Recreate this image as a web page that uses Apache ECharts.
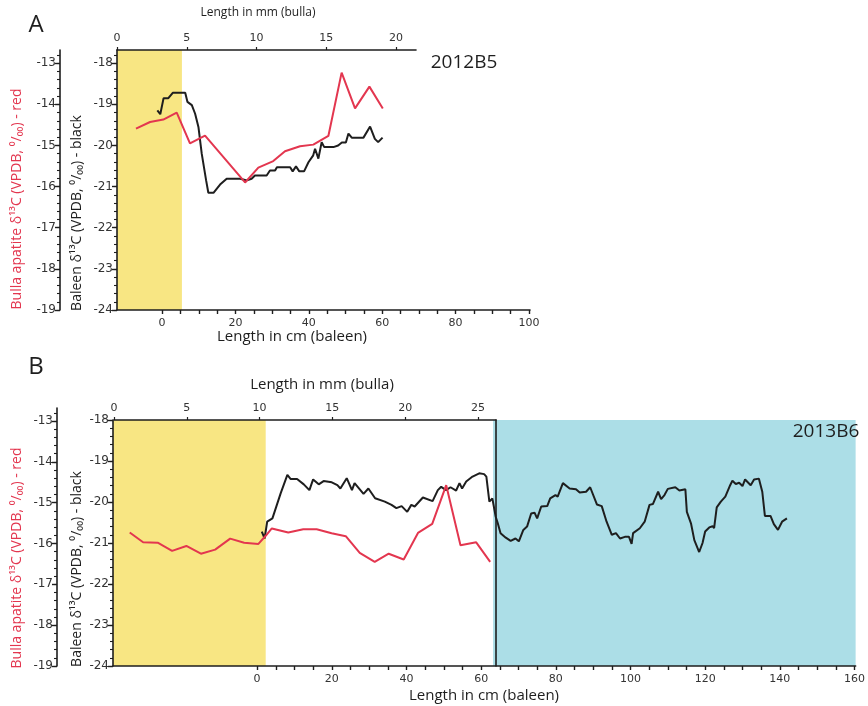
<!DOCTYPE html>
<html>
<head>
<meta charset="utf-8">
<script src="https://cdn.jsdelivr.net/npm/echarts@6/dist/echarts.min.js"></script>
<style>
  html, body { margin: 0; padding: 0; background: #ffffff; }
  #chart { width: 868px; height: 706px; }
</style>
</head>
<body>
<div id="chart"></div>
<script>
// ---- Panel A (2012B5) ----
const aBaleenCm = [-1.3, -0.5, 0.4, 1.7, 2.9, 6.3, 6.9, 8.1, 9.0, 9.9, 10.8, 12.0, 12.6, 14.0, 15.8,
  17.6, 21.3, 23.1, 24.4, 25.3, 28.5, 29.4, 30.8, 31.3, 34.9, 35.6, 36.5, 37.4, 38.7, 39.9,
  41.2, 41.7, 42.6, 43.5, 44.2, 46.7, 48.0, 49.0, 50.1, 50.8, 51.7, 54.9, 56.7, 58.0, 58.9, 60.1];
const aBaleenD13C = [-19.15, -19.24, -18.85, -18.85, -18.72, -18.72, -18.94, -19.02, -19.23, -19.55,
  -20.2, -20.85, -21.15, -21.15, -20.95, -20.81, -20.81, -20.85, -20.81, -20.73,
  -20.73, -20.61, -20.61, -20.53, -20.53, -20.63, -20.51, -20.63, -20.63, -20.41,
  -20.24, -20.08, -20.32, -19.92, -20.04, -20.04, -20.0, -19.93, -19.93, -19.71,
  -19.81, -19.81, -19.54, -19.84, -19.92, -19.81];
const aBullaMm = [1.36, 2.37, 3.32, 4.28, 5.23, 6.31, 9.18, 10.13, 11.2, 12.04, 13.12, 14.07, 15.15,
  16.1, 17.06, 18.09, 19.05];
const aBullaD13C = [-14.59, -14.43, -14.37, -14.2, -14.95, -14.76, -15.9, -15.54, -15.38, -15.14,
  -15.02, -14.98, -14.77, -13.23, -14.1, -13.57, -14.1];
const aYellowZoneCm = [-12.3, 5.4];

// ---- Panel B (2013B6) ----
const bBaleenCm = [1.25, 2.0, 2.7, 4.1, 6.3, 8.1, 9.0, 10.7, 12.5, 14.0, 15.0, 16.5, 17.8, 20.0, 21.5,
  22.3, 24.0, 25.4, 26.1, 28.5, 29.8, 31.6, 34.2, 36.0, 37.3, 38.7, 40.2, 41.3, 42.2, 44.4,
  47.0, 48.4, 49.3, 50.6, 51.8, 53.3, 54.2, 54.9, 56.0, 57.7, 59.5, 60.8, 61.4, 62.2, 63.0,
  63.9, 64.4, 65.2, 66.6, 67.9, 69.2, 70.1, 71.3, 72.3, 73.4, 74.3, 75.0, 76.1, 77.7, 78.5,
  79.9, 80.5, 81.9, 83.7, 85.4, 86.4, 88.1, 89.2, 91.0, 92.3, 93.6, 95.0, 96.1, 97.2, 98.5,
  99.6, 100.3, 100.7, 102.5, 103.8, 105.1, 106.0, 107.4, 108.2, 109.1, 110.0, 112.0, 113.1, 114.7, 115.1,
  116.2, 117.1, 118.4, 119.3, 120.0, 121.1, 122.0, 122.4, 123.1, 124.2, 125.4, 126.7, 127.3, 128.2, 129.1,
  130.0, 130.7, 132.2, 133.1, 134.4, 135.3, 136.0, 137.5, 138.4, 139.5, 140.6, 141.9];
const bBaleenD13C = [-20.72, -20.89, -20.48, -20.40, -19.79, -19.34, -19.44, -19.44, -19.57, -19.71, -19.45, -19.57, -19.49, -19.52, -19.59,
  -19.67, -19.42, -19.71, -19.54, -19.80, -19.67, -19.91, -19.99, -20.07, -20.15, -20.10, -20.24, -20.07, -20.11, -19.89,
  -19.98, -19.71, -19.63, -19.71, -19.64, -19.72, -19.54, -19.67, -19.50, -19.38, -19.30, -19.32, -19.38, -19.99, -19.91,
  -20.36, -20.50, -20.76, -20.87, -20.95, -20.89, -20.96, -20.68, -20.60, -20.28, -20.26, -20.40, -20.11, -20.10, -19.91,
  -19.83, -19.87, -19.54, -19.67, -19.69, -19.77, -19.75, -19.64, -20.06, -20.10, -20.48, -20.80, -20.76, -20.89, -20.85,
  -20.85, -21.02, -20.76, -20.64, -20.48, -20.07, -20.05, -19.75, -19.93, -19.83, -19.68, -19.64, -19.72, -19.69, -20.24,
  -20.52, -20.93, -21.22, -21.00, -20.72, -20.62, -20.59, -20.64, -20.13, -19.99, -19.87, -19.59, -19.48, -19.56, -19.53,
  -19.61, -19.45, -19.59, -19.45, -19.43, -19.75, -20.34, -20.34, -20.54, -20.68, -20.48, -20.40];
const bBullaMm = [1.08, 2.0, 3.0, 3.99, 4.97, 5.97, 6.95, 7.98, 8.94, 9.92, 10.42, 10.84, 11.97, 13.0,
  13.92, 14.95, 15.92, 16.88, 17.91, 18.87, 19.9, 20.88, 21.86, 22.82, 23.8, 24.88, 25.84];
const bBullaD13C = [-15.73, -15.97, -15.98, -16.18, -16.06, -16.25, -16.15, -15.88, -15.98, -16.01,
  -15.81, -15.63, -15.73, -15.65, -15.65, -15.75, -15.82, -16.23, -16.45, -16.25,
  -16.39, -15.74, -15.52, -14.57, -16.04, -15.97, -16.45];
const bYellowZoneCm = [-38.6, 2.3];
const bBlueZoneCm = [63.2, 160.3];

// ---- Tick labels ----
const aCmLabels = [0, 20, 40, 60, 80, 100];
const bCmLabels = [0, 20, 40, 60, 80, 100, 120, 140, 160];
const aMmLabels = [0, 5, 10, 15, 20];
const bMmLabels = [0, 5, 10, 15, 20, 25];
const baleenLabels = [-24, -23, -22, -21, -20, -19, -18];
const bullaLabels = [-19, -18, -17, -16, -15, -14, -13];

const RED = '#e3364f';
const YELLOW = '#f8e683';
const BLUE = '#acdee7';
const INK = '#1e1e1e';
const TICK_FONT = 'DejaVu Sans';
const TITLE_FONT = 'Open Sans';

function steps(from, to, step) {
  const out = [];
  for (let v = from; v <= to + 1e-9; v += step) out.push(Math.round(v * 100) / 100);
  return out;
}
function zip(xs, ys) { return xs.map((x, i) => [x, ys[i]]); }

const axisLine = { show: true, onZero: false, lineStyle: { color: INK, width: 1.6 } };
const labelStyle = { color: '#333', fontFamily: TICK_FONT, fontSize: 11 };

function xCm(gridIndex, min, max, labels) {
  return {
    type: 'value', gridIndex, position: 'bottom', min, max, z: 10,
    axisLine, splitLine: { show: false },
    axisTick: { show: true, inside: false, length: 4, customValues: steps(0, labels[labels.length - 1], 5),
      lineStyle: { color: INK, width: 1.4 } },
    axisLabel: Object.assign({ customValues: labels, margin: 8 }, labelStyle)
  };
}
function xMm(gridIndex, max, labels, show) {
  return {
    type: 'value', gridIndex, position: 'top', min: 0, max, show, z: 10,
    axisLine, splitLine: { show: false },
    axisTick: { show: true, length: 3, customValues: labels, lineStyle: { color: INK, width: 1.2 } },
    axisLabel: Object.assign({ customValues: labels, margin: 6 }, labelStyle)
  };
}
// Major axis with labels, plus an overlaid twin carrying the 0.2 minor ticks
function yPair(gridIndex, min, max, labels, offset) {
  const major = {
    type: 'value', gridIndex, position: 'left', offset, min, max, z: 10,
    axisLine, splitLine: { show: false },
    axisTick: { show: true, length: 5, customValues: labels, lineStyle: { color: INK, width: 1.4 } },
    axisLabel: Object.assign({ customValues: labels, margin: 4 }, labelStyle, { fontSize: 12 })
  };
  const minor = {
    type: 'value', gridIndex, position: 'left', offset, min, max, z: 10,
    axisLine: { show: false, onZero: false }, splitLine: { show: false }, axisLabel: { show: false },
    axisTick: { show: true, length: 3, customValues: steps(min, max, 0.2), lineStyle: { color: INK, width: 1.1 } }
  };
  return [major, minor];
}

const grids = [
  { left: 117, top: 50, width: 413, height: 260 },   // 0: A baleen (cm)
  { left: 117, top: 50, width: 299, height: 260 },   // 1: A bulla (mm)
  { left: 113, top: 420, width: 749, height: 246 },  // 2: B baleen (cm)
  { left: 114, top: 420, width: 382, height: 246 },  // 3: B bulla frame (mm axis + right edge)
  { left: 114, top: 408, width: 382, height: 258 }   // 4: B bulla values
];

const xAxes = [
  xCm(0, -12.3, 100.3, aCmLabels),
  xMm(1, 21.43, aMmLabels, true),
  xCm(2, -38.6, 160.3, bCmLabels),
  xMm(3, 26.24, bMmLabels, true),
  xMm(4, 26.24, bMmLabels, false)
];

const yAxes = [].concat(
  yPair(0, -24, -17.68, baleenLabels, 0),    // 0,1
  yPair(1, -19, -12.68, bullaLabels, 57),    // 2,3
  yPair(2, -24, -18, baleenLabels, 0),       // 4,5
  yPair(4, -19, -12.68, bullaLabels, 57),    // 6,7
  [{ type: 'value', gridIndex: 3, position: 'right', min: -24, max: -18, z: 10,
     axisLine, axisTick: { show: false }, axisLabel: { show: false }, splitLine: { show: false } }] // 8
);

function zone(range, color) {
  return [{ xAxis: range[0], itemStyle: { color, opacity: 1 } }, { xAxis: range[1] }];
}

const lineBase = { type: 'line', showSymbol: false, symbol: 'none', silent: true, animation: false,
  z: 3, lineStyle: { width: 2, join: 'round' } };

const series = [
  Object.assign({}, lineBase, {
    name: 'A baleen', xAxisIndex: 0, yAxisIndex: 0, data: zip(aBaleenCm, aBaleenD13C),
    lineStyle: { width: 2, color: INK }, itemStyle: { color: INK },
    markArea: { silent: true, z: 1, data: [zone(aYellowZoneCm, YELLOW)] }
  }),
  Object.assign({}, lineBase, {
    name: 'A bulla', xAxisIndex: 1, yAxisIndex: 2, data: zip(aBullaMm, aBullaD13C),
    lineStyle: { width: 2, color: RED }, itemStyle: { color: RED }
  }),
  Object.assign({}, lineBase, {
    name: 'B baleen', xAxisIndex: 2, yAxisIndex: 4, data: zip(bBaleenCm, bBaleenD13C),
    lineStyle: { width: 2, color: INK }, itemStyle: { color: INK },
    markArea: { silent: true, z: 1, data: [zone(bYellowZoneCm, YELLOW), zone(bBlueZoneCm, BLUE)] }
  }),
  Object.assign({}, lineBase, {
    name: 'B bulla', xAxisIndex: 4, yAxisIndex: 6, data: zip(bBullaMm, bBullaD13C),
    lineStyle: { width: 2, color: RED }, itemStyle: { color: RED }
  })
];

function label(text, x, y, size, opts) {
  return Object.assign({
    type: 'text', x, y, z: 20, silent: true,
    style: { text, fill: INK, font: size + 'px "' + TITLE_FONT + '", sans-serif',
      align: 'center', verticalAlign: 'middle' }
  }, opts || {});
}
function vLabel(text, x, y, color) {
  return {
    type: 'text', x, y, rotation: Math.PI / 2, z: 20, silent: true,
    style: { text, fill: color, font: '14px "' + TITLE_FONT + '", sans-serif',
      align: 'center', verticalAlign: 'middle' }
  };
}

const bullaTitle = 'Bulla apatite δ¹³C (VPDB, ⁰/₀₀) - red';
const baleenTitle = 'Baleen δ¹³C (VPDB, ⁰/₀₀) - black';

const graphics = [
  label('A', 36, 25, 24),
  label('B', 36, 367, 24),
  label('Length in mm (bulla)', 258, 13, 12),
  label('Length in cm (baleen)', 292, 337, 15),
  label('2012B5', 464, 63, 19),
  label('Length in mm (bulla)', 322, 385, 15),
  label('Length in cm (baleen)', 484, 696, 15),
  label('2013B6', 826, 432, 19),
  vLabel(bullaTitle, 17, 199, RED),
  vLabel(baleenTitle, 77, 213, INK),
  vLabel(bullaTitle, 17, 558, RED),
  vLabel(baleenTitle, 77, 569, INK)
];

const chart = echarts.init(document.getElementById('chart'), null, { renderer: 'canvas' });
chart.setOption({
  animation: false,
  backgroundColor: '#ffffff',
  grid: grids,
  xAxis: xAxes,
  yAxis: yAxes,
  series,
  graphic: graphics
});
</script>
</body>
</html>
